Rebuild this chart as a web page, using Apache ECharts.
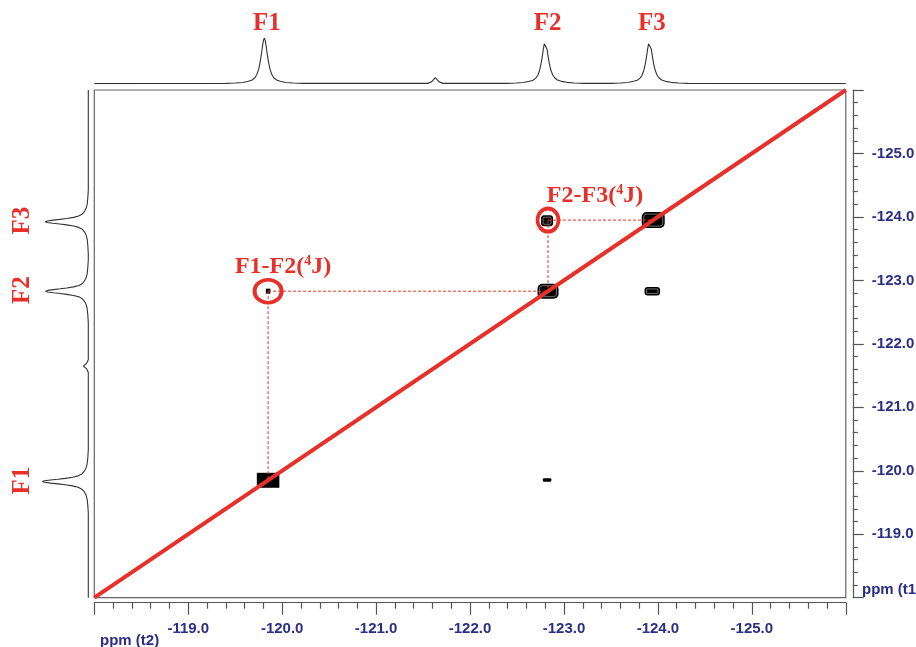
<!DOCTYPE html>
<html><head><meta charset="utf-8">
<script src="https://cdn.jsdelivr.net/npm/echarts@6/dist/echarts.min.js"></script>
<style>html,body{margin:0;padding:0;background:#fff}#c{width:916px;height:647px}</style>
</head><body><div id="c"></div>
<script>
// ---------- data (ppm) ----------
const axisMin = -126, axisMax = -118;          // both dimensions (t2 and t1)
const peakNames = ['F1', 'F2', 'F3'];
const topPeakPpm = [-119.81, -122.80, -123.91];
const leftPeakPpm = [-119.83, -122.83, -123.925];

// 1D projection on top: [ppm, relative intensity]
const topSpectrum = [
  [-118.0,0],[-119.40,0.005],[-119.50,0.012],[-119.58,0.025],[-119.64,0.05],[-119.68,0.08],[-119.71,0.13],
  [-119.73,0.2],[-119.75,0.32],[-119.765,0.47],[-119.78,0.66],[-119.79,0.82],[-119.80,0.95],[-119.81,1.0],
  [-119.82,0.95],[-119.83,0.82],[-119.84,0.66],[-119.855,0.47],[-119.87,0.32],[-119.89,0.2],[-119.91,0.13],
  [-119.94,0.08],[-119.98,0.05],[-120.04,0.025],[-120.12,0.012],[-120.22,0.005],
  [-121.55,0.005],[-121.59,0.04],[-121.63,0.13],[-121.67,0.04],[-121.71,0.005],
  [-122.40,0.005],[-122.49,0.012],[-122.57,0.025],[-122.63,0.05],[-122.67,0.075],[-122.70,0.12],[-122.72,0.18],
  [-122.74,0.29],[-122.755,0.43],[-122.77,0.61],[-122.78,0.76],[-122.79,0.88],[-122.80,0.92],[-122.81,0.88],
  [-122.82,0.76],[-122.83,0.61],[-122.845,0.43],[-122.86,0.3],[-122.88,0.19],[-122.90,0.13],[-122.93,0.08],
  [-122.97,0.05],[-123.03,0.028],[-123.11,0.013],[-123.21,0.005],
  [-123.51,0.005],[-123.60,0.012],[-123.68,0.025],[-123.74,0.05],[-123.78,0.075],[-123.81,0.12],[-123.83,0.18],
  [-123.85,0.29],[-123.865,0.43],[-123.88,0.61],[-123.89,0.76],[-123.90,0.88],[-123.91,0.92],[-123.92,0.88],
  [-123.93,0.76],[-123.94,0.61],[-123.955,0.43],[-123.97,0.3],[-123.99,0.19],[-124.01,0.13],[-124.04,0.08],
  [-124.08,0.05],[-124.14,0.028],[-124.22,0.013],[-124.32,0.005],[-126.0,0]
];

// 1D projection on the left: [relative intensity, ppm]
const leftSpectrum = [
  [0,-118.0],[0,-119.33],[0.01,-119.45],[0.025,-119.55],[0.05,-119.62],[0.09,-119.67],[0.14,-119.71],
  [0.22,-119.74],[0.34,-119.762],[0.5,-119.78],[0.66,-119.793],[0.82,-119.805],[0.95,-119.818],[1.0,-119.83],
  [0.95,-119.842],[0.82,-119.855],[0.66,-119.867],[0.5,-119.88],[0.34,-119.898],[0.22,-119.92],[0.14,-119.95],
  [0.09,-119.99],[0.05,-120.04],[0.025,-120.11],[0.01,-120.21],[0,-120.33],
  [0,-121.55],[0.04,-121.61],[0.11,-121.65],[0.04,-121.69],[0,-121.75],
  [0,-122.33],[0.01,-122.45],[0.023,-122.55],[0.047,-122.62],[0.084,-122.67],[0.13,-122.71],
  [0.2,-122.74],[0.32,-122.762],[0.47,-122.78],[0.61,-122.793],[0.76,-122.805],[0.88,-122.818],[0.93,-122.83],
  [0.88,-122.842],[0.76,-122.855],[0.61,-122.867],[0.47,-122.88],[0.32,-122.898],[0.2,-122.92],[0.13,-122.95],
  [0.084,-122.99],[0.047,-123.04],[0.023,-123.11],[0.01,-123.21],[0,-123.33],
  [0,-123.425],[0.01,-123.545],[0.023,-123.645],[0.047,-123.715],[0.085,-123.765],[0.13,-123.805],
  [0.21,-123.835],[0.32,-123.857],[0.47,-123.875],[0.62,-123.888],[0.77,-123.9],[0.89,-123.913],[0.94,-123.925],
  [0.89,-123.937],[0.77,-123.95],[0.62,-123.962],[0.47,-123.975],[0.32,-123.993],[0.21,-124.015],[0.13,-124.045],
  [0.085,-124.085],[0.047,-124.135],[0.023,-124.205],[0.01,-124.305],[0,-124.425],[0,-126.0]
];

// 2D contour blobs: centre (t2, t1) and extent in ppm
const contourX = [-119.85, -122.83, -123.95, -122.82, -119.85, -123.94, -122.82];
const contourY = [-119.85, -122.83, -123.95, -123.94, -122.83, -122.83, -119.855];
const contourW = [0.240, 0.224, 0.245, 0.128, 0.048, 0.165, 0.090];
const contourH = [0.236, 0.236, 0.252, 0.173, 0.079, 0.134, 0.055];

// 4J cross peaks that are annotated
const crossNames = ['F1-F2', 'F2-F3'];
const crossX = [-119.85, -122.83];
const crossY = [-122.83, -123.95];

// ---------- styles ----------
const RED = '#e8302a';
const NAVY = '#2a2e85';
const AXIS = '#555';
const contourRadius = [0, 5, 5, 3, 0, 3, 1];
const circleSizes = [[27, 23], [21, 23]];
const crossLabelOffsets = [[15, -24], [47, -24]];
const mainGrid = { left: 94.3, top: 90, width: 751.5, height: 507.7 };

const chart = echarts.init(document.getElementById('c'), null, { renderer: 'canvas' });

const labelFont = { fontFamily: 'Liberation Serif', fontWeight: 'bold', color: RED,
                    textBorderWidth: 0, textBorderColor: 'transparent', textShadowBlur: 0 };

const series = [];

// top 1D spectrum
series.push({
  type: 'line', xAxisIndex: 1, yAxisIndex: 1, data: topSpectrum, showSymbol: false, silent: true,
  lineStyle: { color: '#333', width: 1.1 }, z: 2
});
// left 1D spectrum
series.push({
  type: 'line', xAxisIndex: 2, yAxisIndex: 2, data: leftSpectrum, showSymbol: false, silent: true,
  lineStyle: { color: '#333', width: 1.1 }, z: 2
});
// top peak labels
series.push({
  type: 'scatter', xAxisIndex: 1, yAxisIndex: 1, symbolSize: 0, silent: true,
  itemStyle: { color: RED, opacity: 1 },
  data: topPeakPpm.map((p, i) => ({ value: [p, 0], name: peakNames[i] })),
  label: Object.assign({ show: true, position: 'inside', offset: [2.5, -60], formatter: p => p.name,
           fontSize: 25 }, labelFont)
});
// left peak labels (offset is expressed in the rotated label frame)
series.push({
  type: 'scatter', xAxisIndex: 2, yAxisIndex: 2, symbolSize: 0, silent: true,
  itemStyle: { color: RED, opacity: 1 },
  data: leftPeakPpm.map((p, i) => ({ value: [0, p], name: peakNames[i] })),
  label: Object.assign({ show: true, position: 'inside', rotate: 90, offset: [1, -66], formatter: p => p.name,
           fontSize: 25 }, labelFont)
});
// contour blobs
series.push({
  type: 'custom', xAxisIndex: 0, yAxisIndex: 0, silent: true, z: 3,
  data: contourX.map((x, i) => [x, contourY[i], contourW[i], contourH[i]]),
  encode: { x: 0, y: 1 },
  renderItem: function (params, api) {
    const x = api.value(0), y = api.value(1), w = api.value(2), h = api.value(3);
    const a = api.coord([x + w / 2, y + h / 2]);
    const b = api.coord([x - w / 2, y - h / 2]);
    const left = Math.min(a[0], b[0]), top = Math.min(a[1], b[1]);
    const W = Math.abs(a[0] - b[0]), H = Math.abs(a[1] - b[1]);
    const r = contourRadius[params.dataIndex];
    const children = [{ type: 'rect', shape: { x: left, y: top, width: W, height: H, r: r }, style: { fill: '#000' } }];
    if (r >= 3) {
      children.push({ type: 'rect', shape: { x: left + 2, y: top + 2, width: W - 4, height: H - 4, r: Math.max(r - 2, 1) },
        style: { fill: 'none', stroke: 'rgba(255,255,255,0.55)', lineWidth: 0.8 } });
    }
    return { type: 'group', children: children };
  }
});
// dashed connectors (cross peak -> diagonal peaks)
crossX.forEach((cx, i) => {
  const cy = crossY[i];
  [[[cx, cy], [cy, cy]], [[cx, cy], [cx, cx]]].forEach(seg => {
    series.push({
      type: 'line', xAxisIndex: 0, yAxisIndex: 0, data: seg, showSymbol: false, silent: true, z: 4,
      lineStyle: { color: RED, width: 1, type: [3, 2] }
    });
  });
});
// diagonal
series.push({
  type: 'line', xAxisIndex: 0, yAxisIndex: 0, data: [[axisMax, axisMax], [axisMin, axisMin]],
  showSymbol: false, silent: true, z: 6, lineStyle: { color: RED, width: 4 }
});
// circles + annotations
series.push({
  type: 'scatter', xAxisIndex: 0, yAxisIndex: 0, silent: true, z: 7, symbol: 'circle',
  data: crossNames.map((n, i) => ({ value: [crossX[i], crossY[i]], name: n, symbolSize: circleSizes[i],
                                   label: { offset: crossLabelOffsets[i] } })),
  itemStyle: { color: 'rgba(0,0,0,0)', borderColor: RED, borderWidth: 3.8, opacity: 1 },
  label: {
    show: true, position: 'inside', textBorderWidth: 0,
    formatter: p => '{a|' + p.name + '(}{s|4}{a|J)}',
    rich: {
      a: Object.assign({ fontSize: 24, lineHeight: 26 }, labelFont),
      s: Object.assign({ fontSize: 14, lineHeight: 26, verticalAlign: 'top', padding: [0, 0, 12, 0] }, labelFont)
    }
  }
});

const axisLabelStyle = { color: NAVY, fontSize: 15, fontWeight: 'bold', fontFamily: 'Liberation Sans' };

chart.setOption({
  animation: false,
  backgroundColor: '#fff',
  grid: [
    Object.assign({ show: true, borderColor: '#666', borderWidth: 1.2, backgroundColor: 'transparent',
                    containLabel: false, outerBoundsMode: 'none' }, mainGrid),
    { left: mainGrid.left, width: mainGrid.width, top: 38.3, height: 45.3, containLabel: false, outerBoundsMode: 'none' },
    { left: 42.3, width: 46, top: mainGrid.top, height: mainGrid.height, containLabel: false, outerBoundsMode: 'none' }
  ],
  xAxis: [
    { gridIndex: 0, type: 'value', min: axisMin, max: axisMax, interval: 1, inverse: true,
      position: 'bottom', offset: 5,
      axisLine: { show: true, onZero: false, lineStyle: { color: AXIS, width: 1.2 } },
      axisTick: { show: true, length: 12, lineStyle: { color: AXIS, width: 1.2 } },
      minorTick: { show: true, splitNumber: 5, length: 6, lineStyle: { color: AXIS, width: 1.2 } },
      axisLabel: Object.assign({ show: true, margin: 19, formatter: v => v.toFixed(1),
                                 showMinLabel: false, showMaxLabel: false }, axisLabelStyle),
      splitLine: { show: false }, minorSplitLine: { show: false } },
    { gridIndex: 1, type: 'value', min: axisMin, max: axisMax, inverse: true, show: false },
    { gridIndex: 2, type: 'value', min: 0, max: 1, inverse: true, show: false }
  ],
  yAxis: [
    { gridIndex: 0, type: 'value', min: axisMin, max: axisMax, interval: 1, inverse: true,
      position: 'right', offset: 7,
      axisLine: { show: true, onZero: false, lineStyle: { color: AXIS, width: 1.2 } },
      axisTick: { show: true, length: 11, lineStyle: { color: AXIS, width: 1.2 } },
      minorTick: { show: true, splitNumber: 5, length: 5, lineStyle: { color: AXIS, width: 1.2 } },
      axisLabel: Object.assign({ show: true, margin: 19, formatter: v => v.toFixed(1),
                                 showMinLabel: false, showMaxLabel: false }, axisLabelStyle),
      splitLine: { show: false }, minorSplitLine: { show: false } },
    { gridIndex: 1, type: 'value', min: 0, max: 1, show: false },
    { gridIndex: 2, type: 'value', min: axisMin, max: axisMax, inverse: true, show: false }
  ],
  graphic: [
    { type: 'text', left: 100, top: 633, silent: true,
      style: { text: 'ppm (t2)', fill: NAVY, font: 'bold 15px "Liberation Sans"' } },
    { type: 'text', left: 862, top: 582, silent: true,
      style: { text: 'ppm (t1)', fill: NAVY, font: 'bold 15px "Liberation Sans"' } }
  ],
  series: series
});
</script>
</body></html>
